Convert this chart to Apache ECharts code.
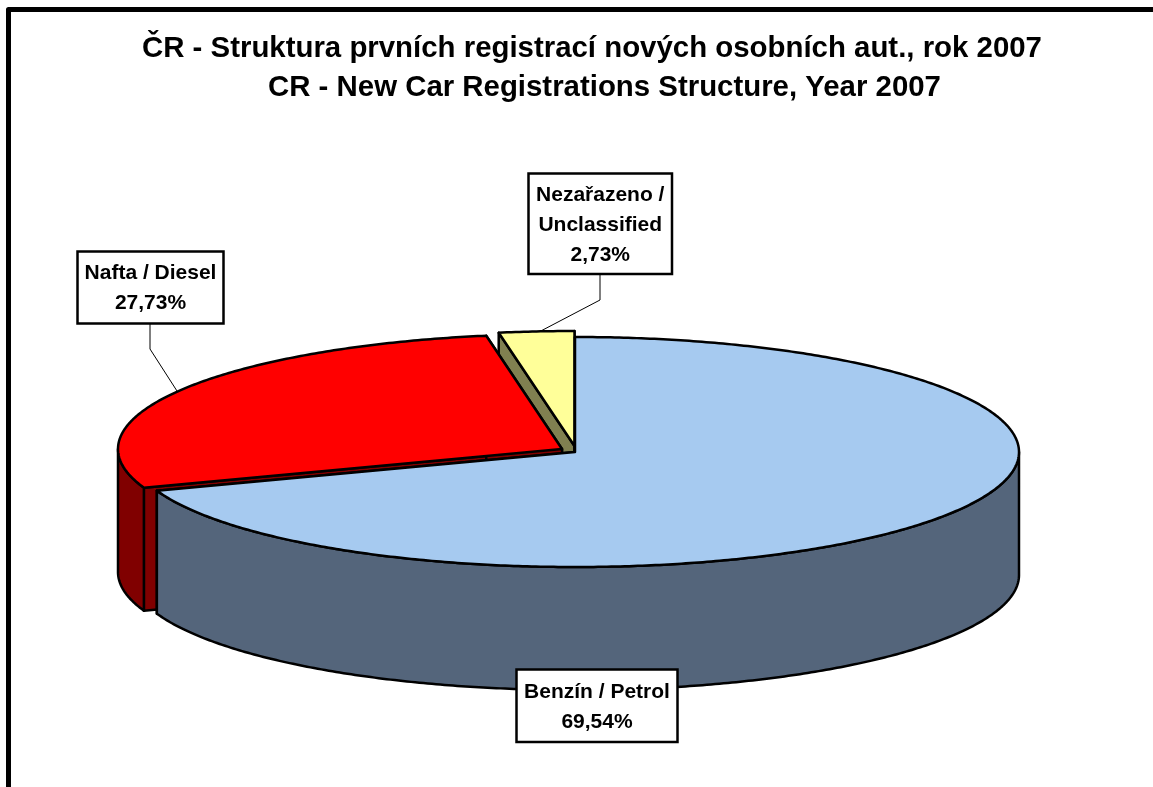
<!DOCTYPE html>
<html>
<head>
<meta charset="utf-8">
<style>html,body{margin:0;padding:0;background:#fff}#c{width:1153px;height:787px}</style>
<script src="https://cdn.jsdelivr.net/npm/echarts@6/dist/echarts.min.js"></script>
</head>
<body>
<div id="c"></div>
<script>
const titleLines = ['ČR - Struktura prvních registrací nových osobních aut., rok 2007', 'CR - New Car Registrations Structure, Year 2007'];
const categories = ['Benzín / Petrol', 'Nafta / Diesel', 'Nezařazeno /\nUnclassified'];
const shares = [69.54, 27.73, 2.73];

const FONT = '"Liberation Sans", Arial, sans-serif';
const topColors = ['#A6CAF0', '#FF0000', '#FFFF99'];
const wallColors = ['#54657B', '#800000', '#808050'];
const centers = [[575, 452], [562, 449], [574.5, 446]];
const boxes = [[516.5, 669.5, 161, 72.5], [77.5, 251.5, 146, 72], [528.5, 173.5, 143.5, 100.5]];
const leaders = [null, [[150, 324], [150, 349], [177, 391]], [[600, 274], [600, 300], [537, 333]]];
const RX = 444, RY = 115, DEPTH = 123;

const chart = echarts.init(document.getElementById('c'));
const total = shares.reduce((a, b) => a + b, 0);

function pt(c, t, dy) {
  return [c[0] + RX * Math.sin(t), c[1] - RY * Math.cos(t) + (dy || 0)];
}
function arc(c, t0, t1, dy) {
  const n = Math.max(2, Math.ceil(Math.abs(t1 - t0) / 0.01));
  const out = [];
  for (let i = 0; i <= n; i++) out.push(pt(c, t0 + (t1 - t0) * i / n, dy));
  return out;
}
function poly(points, fill, z2) {
  return {
    type: 'polygon', z2, shape: { points },
    style: { fill, stroke: '#000', lineWidth: 2.5, lineJoin: 'round' }
  };
}
function renderItem(params, api) {
  const i = params.dataIndex;
  const before = shares.slice(0, i).reduce((a, b) => a + b, 0);
  const t0 = before / total * Math.PI * 2;
  const t1 = (before + api.value(0)) / total * Math.PI * 2;
  const c = centers[i];
  const base = (shares.length - i) * 10;
  const children = [];

  // radial faces, then the visible front of the rim, then the top
  [t0, t1].forEach(t => {
    const p = pt(c, t);
    children.push(poly([c, p, [p[0], p[1] + DEPTH], [c[0], c[1] + DEPTH]], wallColors[i], base));
  });
  const a = Math.max(t0, Math.PI / 2), b = Math.min(t1, Math.PI * 1.5);
  if (b > a) {
    children.push(poly(arc(c, a, b).concat(arc(c, b, a, DEPTH)), wallColors[i], base + 1));
  }
  children.push(poly([c].concat(arc(c, t0, t1)), topColors[i], base + 2));

  if (leaders[i]) {
    children.push({
      type: 'polyline', z2: 1, shape: { points: leaders[i] },
      style: { fill: null, stroke: '#000', lineWidth: 1 }
    });
  }
  const box = boxes[i];
  children.push({
    type: 'rect', z2: 100,
    shape: { x: box[0], y: box[1], width: box[2], height: box[3] },
    style: { fill: '#fff', stroke: '#000', lineWidth: 2.5 }
  });
  const pct = api.value(0).toFixed(2).replace('.', ',') + '%';
  children.push({
    type: 'text', z2: 101,
    x: box[0] + box[2] / 2, y: box[1] + box[3] / 2 + 1,
    style: {
      text: categories[i] + '\n' + pct, fill: '#000',
      font: 'bold 21px ' + FONT, lineHeight: 30,
      align: 'center', verticalAlign: 'middle'
    }
  });
  return { type: 'group', children };
}

chart.setOption({
  backgroundColor: '#fff',
  animation: false,
  title: [
    { text: titleLines[0], left: 142, top: 34, padding: 0, textStyle: { fontFamily: FONT, fontWeight: 'bold', fontSize: 29.4, color: '#000' } },
    { text: titleLines[1], left: 268, top: 73, padding: 0, textStyle: { fontFamily: FONT, fontWeight: 'bold', fontSize: 29.4, color: '#000' } }
  ],
  graphic: [
    { type: 'polyline', shape: { points: [[8.5, 787], [8.5, 9.5], [1153, 9.5]] }, style: { fill: null, stroke: '#000', lineWidth: 5, lineJoin: 'round' } }
  ],
  series: [{
    type: 'custom',
    coordinateSystem: 'none',
    data: shares.map((v, i) => ({ name: categories[i], value: [v] })),
    renderItem,
    silent: true
  }]
});
</script>
</body>
</html>
